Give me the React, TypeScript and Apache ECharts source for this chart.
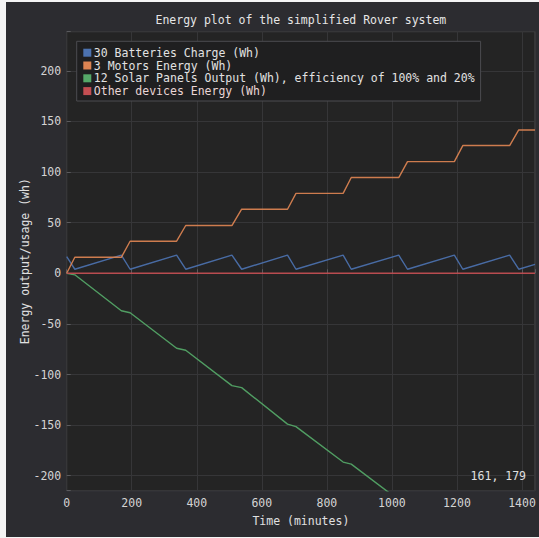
import React, { useEffect, useRef } from "react";
import * as echarts from "echarts";

// Time stamps (minutes) at which each series changes slope
const timeMin = [0, 25, 168, 195, 338, 366, 508, 538, 679, 705, 850, 875, 1021, 1048, 1192, 1218, 1362, 1390, 1440];

// 30 batteries charge (Wh)
const batteryWh = [16.4, 4, 18, 4, 18, 4, 18, 4, 18, 4, 18, 4, 18, 4, 18, 4, 18, 4, 8.8];

// 3 motors cumulative energy (Wh)
const motorWh = [0, 15.8, 15.8, 31.7, 31.7, 47.2, 47.2, 63.3, 63.3, 79, 79, 94.6, 94.6, 110.3, 110.3, 126.2, 126.2, 141.6, 141.6];

// 12 solar panels output (Wh)
const solarWh = [0, -1.5, -37, -39, -74, -76, -111, -113, -149, -151.5, -186.5, -188.5, -224, -226, -261, -263, -298, -300, -312];

// Other devices energy (Wh)
const otherT = [0, 1440];
const otherWh = [0, 0];

const seriesNames = [
  "30 Batteries Charge (Wh)",
  "3 Motors Energy (Wh)",
  "12 Solar Panels Output (Wh), efficiency of 100% and 20%",
  "Other devices Energy (Wh)",
];
const seriesColors = ["#4c72b0", "#dd8452", "#55a868", "#c44e52"];

const FONT = "DejaVu Sans Mono";
const FS = 11.5;

const zip = (xs: number[], ys: number[]) => xs.map((x, i) => [x, ys[i]]);

export default function App() {
  const ref = useRef<HTMLDivElement>(null);

  useEffect(() => {
    document.body.style.margin = "0";
    if (!ref.current) return;
    const chart = echarts.init(ref.current, undefined, { renderer: "svg" });

    const gridL = 66.7, gridT = 31.7, gridR = 4, gridB = 47.3;
    const plotCx = (gridL + (539 - gridR)) / 2;

    const mk = (i: number, data: number[][]) => ({
      name: seriesNames[i],
      type: "line",
      data,
      showSymbol: false,
      symbol: "none",
      clip: true,
      lineStyle: { color: seriesColors[i], width: 1.4, opacity: 0.92 },
      itemStyle: { color: seriesColors[i] },
      emphasis: { disabled: true },
    });

    chart.setOption({
      animation: false,
      backgroundColor: "transparent",
      textStyle: { fontFamily: FONT },
      graphic: [
        {
          type: "text",
          x: plotCx,
          y: 20,
          style: {
            text: "Energy plot of the simplified Rover system",
            fill: "#e6e6e6",
            font: `${FS}px "${FONT}"`,
            textAlign: "center",
            textVerticalAlign: "middle",
          },
        },
        {
          type: "text",
          x: 526,
          y: 476,
          z: 10,
          style: {
            text: "161, 179",
            fill: "#e0e0e0",
            font: `${FS}px "${FONT}"`,
            textAlign: "right",
            textVerticalAlign: "middle",
          },
        },
      ],
      legend: {
        orient: "vertical",
        left: 76.7,
        top: 41.3,
        itemWidth: 8,
        itemHeight: 8,
        itemGap: 0,
        icon: "rect",
        padding: [5, 6, 3.5, 6.6],
        backgroundColor: "#1f1f20",
        borderColor: "#4c4c50",
        borderWidth: 1,
        borderRadius: 0,
        selectedMode: false,
        textStyle: {
          color: "#e2e2e2",
          fontFamily: FONT,
          fontSize: FS,
          lineHeight: 12.8,
          padding: [0, 0, 0, -2.5],
        },
        data: seriesNames.map((n, i) =>
          i === 3 ? { name: n, textStyle: { color: "#ead6d6" } } : { name: n }
        ),
      },
      grid: {
        left: gridL,
        top: gridT,
        right: gridR,
        bottom: gridB,
        show: true,
        backgroundColor: "#242424",
        borderColor: "#48484c",
        borderWidth: 1,
      },
      xAxis: {
        type: "value",
        min: 0,
        max: 1440,
        interval: 200,
        name: "Time (minutes)",
        nameLocation: "middle",
        nameGap: 24,
        nameTextStyle: { color: "#e0e0e0", fontFamily: FONT, fontSize: FS },
        axisLine: { show: false },
        axisTick: { show: true, inside: true, length: 4, lineStyle: { color: "#5a5a5e" } },
        axisLabel: {
          color: "#d4d4d4",
          fontFamily: FONT,
          fontSize: FS,
          margin: 6,
          formatter: (v: number) => (v % 200 === 0 ? String(v) : ""),
        },
        splitLine: { show: true, lineStyle: { color: "#363638", width: 1 } },
      },
      yAxis: {
        type: "value",
        min: -214.8,
        max: 238.7,
        splitNumber: 9,
        name: "Energy output/usage (wh)",
        nameLocation: "middle",
        nameRotate: 90,
        nameGap: 36,
        nameMoveOverlap: false,
        nameTextStyle: { color: "#e0e0e0", fontFamily: FONT, fontSize: FS },
        axisLine: { show: false },
        axisTick: { show: true, inside: true, length: 4, lineStyle: { color: "#5a5a5e" } },
        axisLabel: {
          color: "#d4d4d4",
          fontFamily: FONT,
          fontSize: FS,
          margin: 5.5,
          formatter: (v: number) => (Math.abs(v % 50) < 1e-6 ? String(v) : ""),
        },
        splitLine: { show: true, lineStyle: { color: "#363638", width: 1 } },
      },
      series: [
        mk(0, zip(timeMin, batteryWh)),
        mk(1, zip(timeMin, motorWh)),
        mk(2, zip(timeMin, solarWh)),
        mk(3, zip(otherT, otherWh)),
      ],
    });

    return () => chart.dispose();
  }, []);

  return (
    <div style={{ position: "relative", width: 539, height: 538, background: "#f4f4f4" }}>
      <div
        style={{
          position: "absolute",
          left: 6,
          top: 2,
          width: 533,
          height: 535,
          background: "#2c2c30",
        }}
      />
      <div ref={ref} style={{ position: "absolute", left: 0, top: 0, width: 539, height: 538 }} />
    </div>
  );
}
